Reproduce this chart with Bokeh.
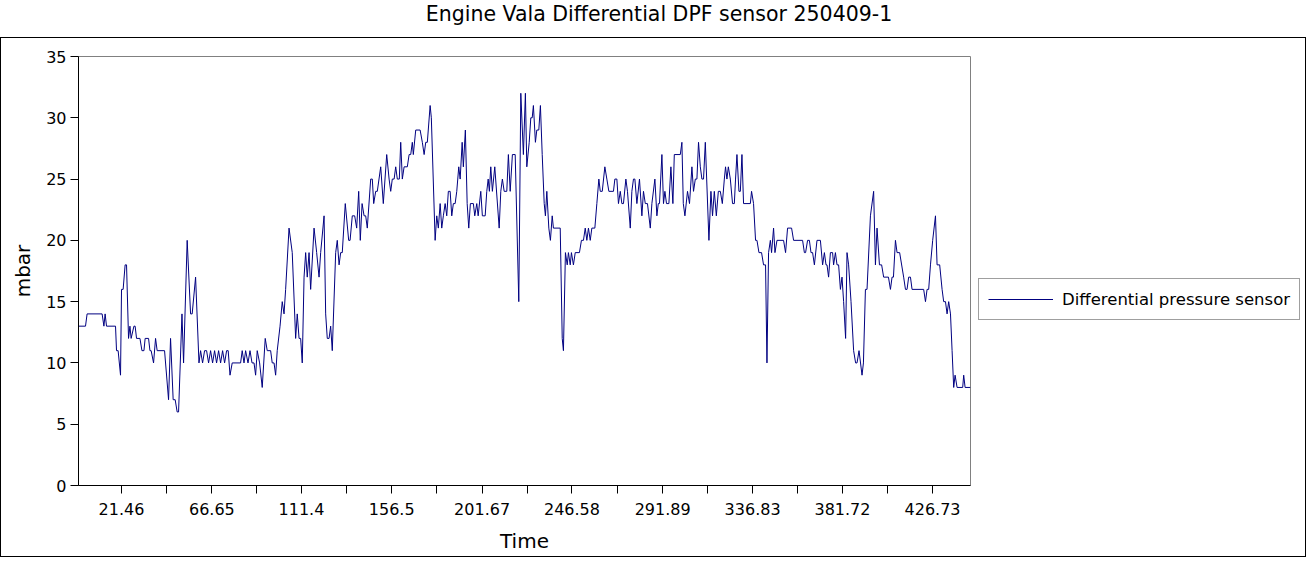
from bokeh.plotting import figure
from bokeh.models import Range1d, FixedTicker, Legend, LegendItem, Div
from bokeh.layouts import column, row
from bokeh.embed import file_html
from bokeh.resources import INLINE

TITLE = "Engine Vala Differential DPF sensor 250409-1"
SERIES_NAME = "Differential pressure sensor"
X_LABEL = "Time"
Y_LABEL = "mbar"

X_TICKS = [21.46, 66.65, 111.4, 156.5, 201.67, 246.58, 291.89, 336.83, 381.72, 426.73]
X_TICK_LABELS = ["21.46", "66.65", "111.4", "156.5", "201.67", "246.58", "291.89", "336.83", "381.72", "426.73"]
Y_TICKS = [0, 5, 10, 15, 20, 25, 30, 35]

TIME = [
    0, 3.5, 4.3, 11.8, 12.7, 13.3, 14, 18.5, 19, 19.8, 21, 21.5, 22.3, 23.3, 24, 25, 25.7, 26.3, 27.7, 28.3,
    29, 30.7, 31.7, 32.7, 33.3, 35, 35.7, 36.3, 37.5, 38.5, 39.3, 43,
    45, 46, 47.3, 48.3, 49.3, 50, 51.7, 52.5, 54.3, 56, 56.8, 58.5, 60.2, 61, 62, 63, 64, 65, 66, 67, 68, 69,
    70, 71, 72, 73, 74, 74.8, 75.7, 76.8, 81, 81.8, 82.7, 83.5, 84.7, 85.7, 86.7, 87.7, 88.5,
    89.3, 90.5, 91.8, 93.3, 94.3, 96, 96.8, 97.7, 98.5, 99.3, 100.7, 101.8, 102.7, 103.5, 105.2, 106.8, 108.5,
    109.3, 110.2, 111, 111.8, 112.7, 113.5, 114.3, 115.2, 116, 117.7, 119, 120.2, 121, 122.7, 123.5, 124.3,
    125.2, 126, 126.8, 128.5, 129.3, 130.2, 131,
    131.8, 133.3, 135, 135.7, 136.8, 138, 139, 140, 140.8, 141.7, 142.7, 143.5, 144.3, 146, 146.8, 147.5, 148.5,
    149.3, 151, 152.3, 154, 155.2, 156, 156.8, 157.7, 158.5, 159.3, 160.3, 161, 161.8, 162.7, 164.3, 165.2, 166,
    166.8, 167.3, 168.5, 170.7, 171.8, 172.7, 173.5, 174.3, 175.7, 176.3,
    178.2, 179, 179.8, 180.7, 181.5, 182.3, 183.2, 184, 184.8, 185.7, 186.5, 187.3, 188.2, 189, 190, 190.7, 191.7,
    192.3, 193.3, 194.2, 195, 195.8, 197.3, 198, 199, 199.7, 201, 201.8, 203.2, 204, 204.7, 205.3, 206, 206.8, 208,
    210.2, 211, 211.8, 212.7, 214, 214.8, 215.7, 216.8, 218.2, 220, 221,
    222.3, 223.3, 224, 225.2, 226, 226.7, 227.3, 228.3, 229, 230, 230.8, 231.7, 232.7, 233.3, 234, 235, 235.8,
    236.7, 237.3, 240.7, 241.7, 242.3, 243.3, 244.2, 244.8, 245.7, 246.3, 247.3, 248.2, 250.3, 251.3, 252.3, 253.2,
    254, 254.8, 255.7, 256.5, 258, 259, 260, 260.7, 261.7, 263, 264, 265, 267.3,
    268, 269, 269.8, 270.7, 271.5, 272.3, 273.5, 274.3, 275.7, 276.5, 277.3, 278, 279, 280.3, 281.5, 282.3, 283.2,
    284.3, 285.7, 286.5, 288, 289, 289.7, 290.3, 291.5, 292.3, 293, 293.8, 295, 296, 297, 297.7, 300.7, 301.5,
    302.2, 303, 304.3, 305.3, 306.5, 307.3, 308.2, 309, 309.8, 310.7, 311.5, 312.3, 313.2,
    315, 316, 316.8, 317.7, 318.7, 319.7, 320.7, 321.7, 322.7, 323.3, 324, 324.7, 325.7, 326.8, 327.7, 328.3, 329,
    330, 330.7, 331.5, 332.3, 335.7, 336.3, 337.3, 338.3, 339, 340, 341.3, 342.3, 343.3, 344, 344.8, 345.7, 346.3,
    347.3, 348, 349, 352.3, 353.3, 354.3, 356.3,
    357.3, 361.8, 362.7, 363.3, 364.3, 365.2, 366, 366.8, 367.7, 369, 370.7, 371.8, 372.7, 373.5, 374, 374.8, 375.7,
    376.8, 377.3, 378.2, 379, 379.8, 380.7, 381.5, 382.3, 383.3, 384, 384.8, 386, 387.3, 388.3, 389, 390, 391.5,
    392.2, 393.2, 394, 395.7, 397.3, 398.2, 399, 400.2, 401.3,
    402.3, 404.7, 405.7, 406.5, 407.2, 408.2, 409, 410.3, 412.3, 413.2, 414, 414.8, 415.7, 416.5, 422.3, 423.2, 424,
    424.8, 425.7, 426.8, 428.2, 429, 430.3, 431.5, 432.3, 433.2, 434, 434.8, 435.7, 436.5, 437.3, 438, 439, 441.8,
    442.3, 443, 445.7,
]

MBAR = [
    13, 13, 14, 14, 13, 14, 13, 13, 11, 11, 9, 16, 16, 18, 18, 12, 13, 12, 13, 13,
    12, 12, 11, 11, 12, 12, 11, 11, 10, 12, 11, 11,
    7, 12, 7, 7, 6, 6, 14, 10, 20, 14, 14, 17, 10, 11, 10, 11, 11, 10, 11, 10, 11, 10,
    11, 10, 11, 10, 11, 11, 9, 10, 10, 11, 10, 11, 10, 11, 10, 10, 9,
    11, 10, 8, 12, 11, 11, 10, 10, 9, 11, 13, 15, 14, 16, 21, 19, 12,
    14, 12, 12, 10, 17, 19, 17, 19, 16, 21, 19, 17, 19, 22, 14, 12,
    12, 13, 11, 19, 20, 18, 19,
    19, 23, 20, 20, 22, 22, 21, 24, 20, 23, 22, 22, 21, 25, 25, 23, 24,
    24, 26, 23, 27, 25, 24, 25, 25, 26, 25, 25, 28, 25, 26, 26, 27, 27,
    28, 27, 29, 29, 28, 27, 28, 28, 31, 30,
    20, 22, 21, 23, 21, 22, 23, 22, 24, 24, 22, 23, 23, 24, 26, 25, 28,
    26, 29, 23, 21, 23, 23, 22, 23, 22, 24, 22, 22, 24, 25, 24, 26, 24, 26,
    21, 24, 25, 24, 24, 27, 24, 27, 27, 15, 32,
    27, 32, 26, 28, 30, 30, 31, 28, 29, 29, 31, 27, 23, 22, 24, 21, 20,
    22, 21, 21, 12, 11, 19, 18, 19, 18, 19, 18, 19, 19, 20, 20, 21,
    20, 21, 20, 21, 21, 23, 25, 24, 24, 26, 25, 24, 24,
    25, 25, 23, 24, 23, 23, 25, 24, 21, 24, 25, 25, 23, 25, 22, 24, 23,
    23, 21, 23, 25, 22, 23, 23, 27, 23, 24, 23, 23, 26, 23, 27, 27, 28,
    23, 22, 24, 23, 26, 24, 25, 25, 28, 26, 25, 25, 28,
    20, 24, 22, 24, 22, 24, 24, 23, 25, 26, 25, 26, 25, 23, 23, 25, 27,
    24, 24, 27, 23, 23, 24, 23, 20, 20, 19, 19, 18, 18, 10, 19, 20, 19,
    21, 19, 20, 20, 19, 21, 21,
    20, 20, 19, 19, 20, 20, 19, 19, 18, 20, 20, 18, 19, 18, 18, 17, 19,
    19, 18, 19, 18, 18, 16, 17, 15, 12, 19, 18, 15, 11, 10, 10, 11, 9,
    10, 16, 16, 22, 24, 18, 21, 18, 18,
    17, 17, 16, 17, 17, 20, 19, 19, 17, 16, 16, 17, 17, 16, 16, 15, 16,
    16, 18, 20, 22, 18, 18, 16, 15, 15, 14, 15, 14, 11, 8, 9, 8, 8,
    9, 8, 8,
]

FONT = "DejaVu Sans"
LINE_COLOR = "#000080"
CANVAS_H = 518

# main plot area
p = figure(
    width=977, height=CANVAS_H,
    min_border_left=77, min_border_right=8, min_border_top=18, min_border_bottom=71,
    x_range=Range1d(TIME[0], TIME[-1]), y_range=Range1d(Y_TICKS[0], Y_TICKS[-1]),
    output_backend="svg", toolbar_location=None,
    background_fill_color="white", border_fill_color="white",
)
p.outline_line_color = "#808080"
p.outline_line_width = 1
p.xgrid.visible = False
p.ygrid.visible = False

r = p.line(TIME, MBAR, line_color=LINE_COLOR, line_width=1)

minor = [(a + b) / 2 for a, b in zip(X_TICKS, X_TICKS[1:])]
p.xaxis.ticker = FixedTicker(ticks=X_TICKS, minor_ticks=minor)
p.xaxis.major_label_overrides = {t: l for t, l in zip(X_TICKS, X_TICK_LABELS)}
p.yaxis.ticker = FixedTicker(ticks=Y_TICKS, minor_ticks=[])

for ax in (p.xaxis[0], p.yaxis[0]):
    ax.axis_line_color = "black"
    ax.major_tick_line_color = "black"
    ax.minor_tick_line_color = "black"
    ax.major_tick_in = 0
    ax.major_tick_out = 8
    ax.minor_tick_in = 0
    ax.minor_tick_out = 8
    ax.major_label_text_font = FONT
    ax.major_label_text_font_size = "16px"
    ax.major_label_text_color = "black"
    ax.axis_label_text_font = FONT
    ax.axis_label_text_font_size = "20px"
    ax.axis_label_text_font_style = "normal"
    ax.axis_label_text_color = "black"

p.xaxis.axis_label = X_LABEL
p.yaxis.axis_label = Y_LABEL
p.xaxis.major_label_standoff = 9
p.xaxis.axis_label_standoff = 11
p.yaxis.major_label_standoff = 4
p.yaxis.axis_label_standoff = 8

# legend area to the right of the plot (the series is drawn here outside the
# visible range, only so that the legend can show its line style)
pl = figure(
    width=327, height=CANVAS_H, min_border=0,
    x_range=Range1d(0, 1), y_range=Range1d(0, 1),
    x_axis_type=None, y_axis_type=None,
    output_backend="svg", toolbar_location=None,
    background_fill_color="white", border_fill_color="white",
)
pl.outline_line_color = None
pl.xgrid.visible = False
pl.ygrid.visible = False
lr = pl.line(TIME, MBAR, line_color=LINE_COLOR, line_width=1)

legend = Legend(
    items=[LegendItem(label=SERIES_NAME, renderers=[lr])],
    location=(0, 165),
    margin=0, padding=9, spacing=0,
    glyph_width=65, glyph_height=22, label_height=22, label_standoff=9,
    label_text_font=FONT, label_text_font_size="16.5px", label_text_color="black",
    border_line_color="#404040", border_line_width=1,
    background_fill_color="white", background_fill_alpha=1.0,
)
pl.add_layout(legend, "center")

chart = row(p, pl, spacing=0, styles={"border": "1px solid black"})

title = Div(
    text=TITLE, width=1308, height=27,
    styles={"font-family": FONT, "font-size": "20.5px", "text-align": "center",
            "line-height": "20px", "position": "relative", "top": "-1px", "color": "black"},
)

layout = column(title, chart, spacing=0)

open("out.html", "w").write(file_html(layout, INLINE))
